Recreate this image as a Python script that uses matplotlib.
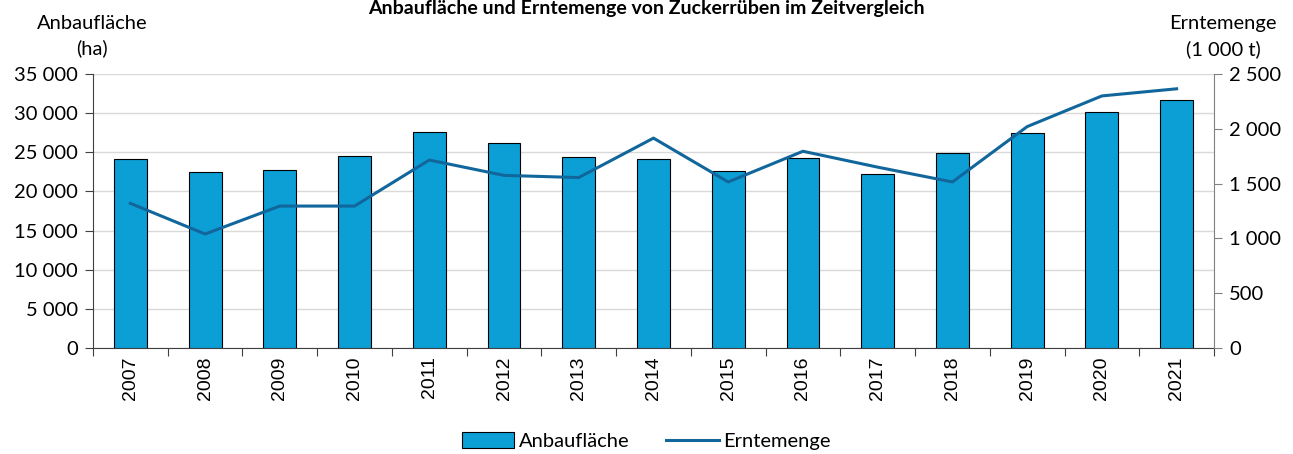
import matplotlib.pyplot as plt
import numpy as np

plt.rcParams['font.family'] = ['Lato', 'DejaVu Sans']

# data
years = ["2007", "2008", "2009", "2010", "2011", "2012", "2013", "2014",
         "2015", "2016", "2017", "2018", "2019", "2020", "2021"]
anbauflaeche = [24150, 22500, 22750, 24500, 27600, 26200, 24450, 24200,
                22550, 24250, 22200, 24900, 27450, 30150, 31700]
erntemenge = [1320, 1040, 1295, 1295, 1715, 1575, 1555, 1915,
              1515, 1795, 1650, 1515, 2020, 2300, 2365]

bar_color = "#0C9FD6"
line_color = "#11669C"


def fmt(v):
    return f"{int(v):,}".replace(",", " ")


def main():
    fig = plt.figure(figsize=(12.93, 4.54), dpi=100)
    ax1 = fig.add_axes([0.0719, 0.2335, 0.867, 0.6035])
    ax2 = ax1.twinx()

    x = np.arange(len(years))
    ax1.bar(x, anbauflaeche, width=0.44, color=bar_color, edgecolor="black",
            linewidth=0.8, label="Anbaufläche", zorder=3)
    ax2.plot(x, erntemenge, color=line_color, linewidth=2.2, label="Erntemenge")

    ax1.set_xlim(-0.5, len(years) - 0.5)
    ax1.set_ylim(0, 35000)
    ax2.set_ylim(0, 2500)
    ax1.set_yticks(np.arange(0, 35001, 5000))
    ax2.set_yticks(np.arange(0, 2501, 500))
    ax1.set_yticklabels([fmt(v) for v in np.arange(0, 35001, 5000)], fontsize=14.5)
    ax2.set_yticklabels([fmt(v) for v in np.arange(0, 2501, 500)], fontsize=14.5)

    # category labels between boundary ticks
    ax1.set_xticks(np.arange(-0.5, len(years), 1.0))
    ax1.set_xticklabels([])
    ax1.set_xticks(x, minor=True)
    ax1.set_xticklabels(years, minor=True, rotation=90, fontsize=14,
                        family="Liberation Sans")
    ax1.tick_params(axis="x", which="major", length=6, direction="out", color="#404040")
    ax1.tick_params(axis="x", which="minor", length=0, pad=6)
    ax1.tick_params(axis="y", length=6, color="#404040", pad=5)
    ax2.tick_params(axis="y", length=6, color="#808080", pad=5)

    ax1.grid(axis="y", color="#d9d9d9", linewidth=1, zorder=0)
    ax1.set_axisbelow(True)
    for ax in (ax1, ax2):
        ax.spines["top"].set_visible(False)
    ax1.spines["right"].set_visible(False)
    ax2.spines["left"].set_visible(False)
    ax2.spines["bottom"].set_visible(False)
    ax1.spines["left"].set_color("#404040")
    ax1.spines["bottom"].set_color("#404040")
    ax2.spines["right"].set_color("#808080")

    fig.text(0.5, 1.0, "Anbaufläche und Erntemenge von Zuckerrüben im Zeitvergleich",
             ha="center", va="top", fontsize=14, fontweight="bold")
    fig.text(0.071, 0.948, "Anbaufläche", ha="center", va="center", fontsize=14.5)
    fig.text(0.071, 0.893, "(ha)", ha="center", va="center", fontsize=14.5)
    fig.text(0.946, 0.948, "Erntemenge", ha="center", va="center", fontsize=14.5)
    fig.text(0.946, 0.891, "(1 000 t)", ha="center", va="center", fontsize=14.5)

    h1, l1 = ax1.get_legend_handles_labels()
    h2, l2 = ax2.get_legend_handles_labels()
    fig.legend(h1 + h2, l1 + l2, loc="center", bbox_to_anchor=(0.5, 0.028),
               ncol=2, frameon=False, fontsize=14.5, handlelength=2.6,
               handleheight=0.8, columnspacing=1.8, handletextpad=0.25)

    fig.savefig("out.png", dpi=100)


if __name__ == "__main__":
    main()
